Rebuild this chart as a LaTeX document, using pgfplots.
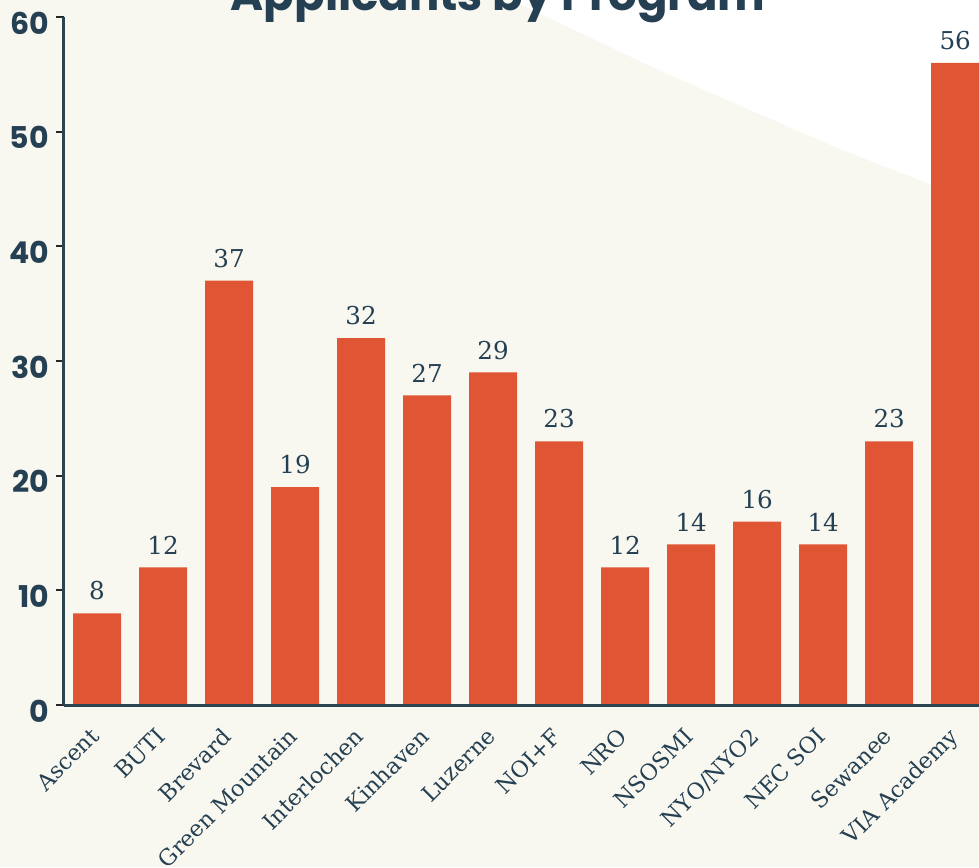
\documentclass[border=0pt]{standalone}
\usepackage{pgfplots}
\pgfplotsset{compat=1.18}
\usepackage{fontspec}
\setmainfont{DejaVu Serif}
\newfontfamily\popfont{Poppins}
\definecolor{bg}{HTML}{F9F8F0}
\definecolor{barc}{HTML}{E05634}
\definecolor{slate}{HTML}{244052}
\definecolor{axc}{HTML}{2A4452}
\begin{document}
\begin{tikzpicture}[x=0.5pt,y=0.5pt]
\fill[bg] (0,0) rectangle (979,867);
\begin{scope}
\clip (0,0) rectangle (979,867);
\fill[white] (511,867) -- (560,844) -- (650,801) -- (750,757) -- (840,718) -- (932,682) -- (979,664) -- (979,867) -- cycle;
\node[overlay, anchor=base, text=slate, font=\popfont\bfseries\fontsize{22.5pt}{26pt}\selectfont] at (498,856) {Applicants by Program};
\end{scope}
\begin{scope}[overlay]
\begin{axis}[
  at={(32pt,81pt)}, anchor=south west,
  scale only axis, width=457.5pt, height=344pt,
  ybar, bar width=24pt, bar shift=0pt,
  xmin=-0.5, xmax=13.36, ymin=0, ymax=60,
  axis x line*=bottom, axis y line*=left,
  axis line style={axc, line width=1.5pt, -},
  axis on top,
  /pgf/number format/assume math mode=true,
  ytick={0,10,...,60},
  tick align=outside, major tick length=4pt,
  ytick style={color=black!85, line width=1pt},
  xtick={0,...,13},
  xtick style={draw=none},
  xticklabels={Ascent,BUTI,Brevard,Green Mountain,Interlochen,Kinhaven,Luzerne,NOI+F,NRO,NSOSMI,NYO/NYO2,NEC SOI,Sewanee,VIA Academy},
  xticklabel style={yshift=-5pt, xshift=-4pt, rotate=45, anchor=north east, font=\fontsize{11.2pt}{14pt}\selectfont, text=slate, inner sep=1pt},
  yticklabel style={font=\popfont\bfseries\fontsize{15pt}{18pt}\selectfont, text=slate, yshift=-3pt},
  nodes near coords,
  nodes near coords style={font=\fontsize{12.3pt}{14pt}\selectfont, text=slate, anchor=south, yshift=3pt},
]
\addplot[fill=barc, draw=none] coordinates {(0,8) (1,12) (2,37) (3,19) (4,32) (5,27) (6,29) (7,23) (8,12) (9,14) (10,16) (11,14) (12,23) (13,56)};
\end{axis}
\end{scope}
\end{tikzpicture}
\end{document}
